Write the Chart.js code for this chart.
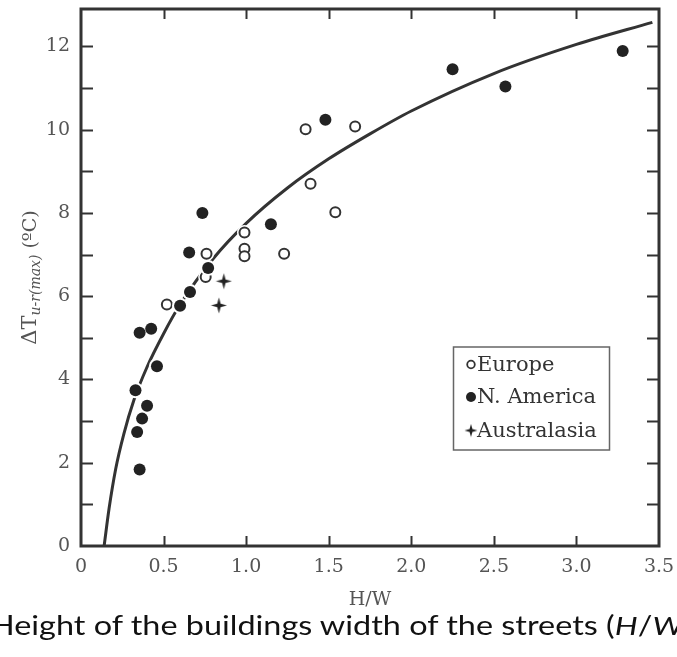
<!DOCTYPE html>
<html>
<head>
<meta charset="utf-8">
<script src="https://cdn.jsdelivr.net/npm/chart.js@4.4.1/dist/chart.umd.min.js"></script>
<style>
  html, body { margin: 0; padding: 0; background: #fff; overflow: hidden; width: 677px; height: 657px; }
  #wrap { position: relative; width: 677px; height: 657px; overflow: hidden; }
  #c { position: absolute; left: 0; top: 0; }
  #caption {
    position: absolute; left: -10px; top: 610px; white-space: nowrap;
    font-family: Lato, "Open Sans", sans-serif; font-size: 26px; color: #111;
    transform-origin: 0 0; line-height: 1.2;
  }
</style>
</head>
<body>
<div id="wrap">
  <canvas id="c" width="677" height="657"></canvas>
  <div id="caption">Height of the buildings width of the streets (<i>H</i>/<i>W</i>)</div>
</div>
<script>
// Urban heat island intensity vs. canyon geometry (H/W)
const europeHW = [0.52, 0.76, 0.755, 0.99, 0.99, 0.99, 1.23, 1.36, 1.39, 1.54, 1.66];
const europeDT = [5.80, 7.02, 6.46, 7.53, 7.14, 6.96, 7.02, 10.01, 8.70, 8.02, 10.08];

const namericaHW = [0.33, 0.34, 0.355, 0.37, 0.40, 0.355, 0.425, 0.46, 0.60, 0.66, 0.655, 0.735, 0.77, 1.15, 1.48, 2.25, 2.57, 3.28];
const namericaDT = [3.74, 2.74, 1.84, 3.06, 3.37, 5.12, 5.22, 4.32, 5.77, 6.10, 7.05, 8.00, 6.68, 7.73, 10.24, 11.45, 11.04, 11.89];

const australasiaHW = [0.835, 0.865];
const australasiaDT = [5.78, 6.36];

// fitted curve, sampled along its length
const curveHW = [0.14, 0.17, 0.21, 0.26, 0.32, 0.40, 0.50, 0.60, 0.80, 1.00, 1.25, 1.50, 1.75, 2.00, 2.50, 3.00, 3.46];
const curveDT = [0.0, 0.9, 1.85, 2.7, 3.5, 4.3, 5.1, 5.8, 6.9, 7.75, 8.6, 9.3, 9.9, 10.45, 11.35, 12.05, 12.58];

const xTickLabels = ['0', '0.5', '1.0', '1.5', '2.0', '2.5', '3.0', '3.5'];
const yTickLabels = ['0', '2', '4', '6', '8', '10', '12'];

const pts = (xs, ys) => xs.map((v, i) => ({ x: v, y: ys[i] }));

// four-pointed star marker
function makeStar(size) {
  const c = document.createElement('canvas');
  c.width = size; c.height = size;
  const g = c.getContext('2d');
  const m = size / 2, r = size / 2 - 0.5, k = size * 0.1;
  g.fillStyle = '#222';
  g.beginPath();
  g.moveTo(m, m - r);
  g.lineTo(m + k, m - k);
  g.lineTo(m + r, m);
  g.lineTo(m + k, m + k);
  g.lineTo(m, m + r);
  g.lineTo(m - k, m + k);
  g.lineTo(m - r, m);
  g.lineTo(m - k, m - k);
  g.closePath();
  g.fill();
  return c;
}
const star = makeStar(17);
const starSmall = makeStar(14);

const SERIF = '"DejaVu Serif", "Liberation Serif", serif';

// white halo under each marker so the curve breaks around it
const halo = {
  id: 'halo',
  beforeDatasetDraw(chart, args) {
    const ds = chart.data.datasets[args.index];
    if (!ds.halo) return;
    const ctx = chart.ctx;
    ctx.save();
    ctx.fillStyle = '#fff';
    args.meta.data.forEach(el => {
      ctx.beginPath();
      ctx.arc(el.x, el.y, ds.halo, 0, Math.PI * 2);
      ctx.fill();
    });
    ctx.restore();
  }
};

// boxed frame with inward ticks on all four sides
const frame = {
  id: 'frame',
  beforeDatasetsDraw(chart) {
    const { ctx, chartArea: a, scales: { x, y } } = chart;
    ctx.save();
    ctx.strokeStyle = '#333';
    ctx.lineWidth = 2;
    const seg = (x1, y1, x2, y2) => { ctx.beginPath(); ctx.moveTo(x1, y1); ctx.lineTo(x2, y2); ctx.stroke(); };
    x.ticks.forEach(t => {
      if (t.value <= x.min || t.value >= x.max) return;
      const px = Math.round(x.getPixelForValue(t.value)) + 0.5;
      seg(px, a.bottom, px, a.bottom - 10);
      seg(px, a.top, px, a.top + 10);
    });
    y.ticks.forEach(t => {
      if (!Number.isInteger(t.value) || t.value <= y.min || t.value >= y.max) return;
      const py = Math.round(y.getPixelForValue(t.value)) + 0.5;
      seg(a.left, py, a.left + 12, py);
      seg(a.right, py, a.right - 12, py);
    });
    ctx.lineWidth = 3;
    ctx.strokeRect(a.left, a.top, a.right - a.left, a.bottom - a.top);
    ctx.restore();
  }
};

// axis titles and the boxed key
const annotations = {
  id: 'annotations',
  afterDraw(chart) {
    const { ctx, chartArea: a } = chart;
    ctx.save();
    // x title
    ctx.fillStyle = '#555';
    ctx.font = '19px ' + SERIF;
    ctx.textAlign = 'center';
    ctx.textBaseline = 'middle';
    ctx.fillText('H/W', (a.left + a.right) / 2, 600);

    // y title, rotated, with subscript
    ctx.save();
    ctx.translate(28, (a.top + a.bottom) / 2);
    ctx.rotate(-Math.PI / 2);
    ctx.textBaseline = 'alphabetic';
    ctx.textAlign = 'left';
    const p1 = '\u0394T', p2 = 'u-r(max)', p3 = ' (\u00BAC)';
    const f1 = '21px ' + SERIF, f2 = 'italic 14px ' + SERIF, f3 = '19px ' + SERIF;
    ctx.font = f1; const w1 = ctx.measureText(p1).width;
    ctx.font = f2; const w2 = ctx.measureText(p2).width;
    ctx.font = f3; const w3 = ctx.measureText(p3).width;
    let xx = -(w1 + w2 + w3) / 2;
    const base = 8;
    ctx.font = f1; ctx.fillText(p1, xx, base); xx += w1;
    ctx.font = f2; ctx.fillText(p2, xx, base + 4); xx += w2;
    ctx.font = f3; ctx.fillText(p3, xx, base);
    ctx.restore();

    // key
    const bx = 453.5, by = 347, bw = 156, bh = 103;
    ctx.strokeStyle = '#666';
    ctx.lineWidth = 1.5;
    ctx.strokeRect(bx, by, bw, bh);
    ctx.font = '21px ' + SERIF;
    ctx.fillStyle = '#333';
    ctx.textAlign = 'left';
    ctx.textBaseline = 'middle';
    const rows = [364.5, 397, 430.5];
    chart.data.datasets.filter(d => d.key).forEach((d, i) => {
      const cy = rows[i], mx = 471;
      if (d.key === 'open') {
        ctx.beginPath(); ctx.arc(mx, cy, 3.8, 0, Math.PI * 2);
        ctx.fillStyle = '#fff'; ctx.fill();
        ctx.lineWidth = 1.8; ctx.strokeStyle = '#333'; ctx.stroke();
      } else if (d.key === 'filled') {
        ctx.beginPath(); ctx.arc(mx, cy, 5, 0, Math.PI * 2);
        ctx.fillStyle = '#222'; ctx.fill();
      } else {
        ctx.drawImage(starSmall, mx - 7, cy - 7);
      }
      ctx.fillStyle = '#333';
      ctx.fillText(d.label, 477, cy + 1);
    });
    ctx.restore();
  }
};

new Chart(document.getElementById('c'), {
  type: 'scatter',
  data: {
    datasets: [
      {
        label: 'fit',
        data: pts(curveHW, curveDT),
        showLine: true,
        pointRadius: 0,
        borderColor: '#333',
        borderWidth: 3,
        cubicInterpolationMode: 'monotone',
        order: 10
      },
      {
        label: 'Europe', key: 'open', halo: 7.5,
        data: pts(europeHW, europeDT),
        pointRadius: 5,
        pointBackgroundColor: '#fff',
        pointBorderColor: '#333',
        pointBorderWidth: 2,
        order: 2
      },
      {
        label: 'N. America', key: 'filled', halo: 8,
        data: pts(namericaHW, namericaDT),
        pointRadius: 6,
        pointBackgroundColor: '#222',
        pointBorderColor: '#222',
        pointBorderWidth: 0,
        order: 1
      },
      {
        label: 'Australasia', key: 'star', halo: 6,
        data: pts(australasiaHW, australasiaDT),
        pointStyle: star,
        pointRadius: 8,
        order: 3
      }
    ]
  },
  options: {
    responsive: false,
    animation: false,
    events: [],
    layout: { padding: { top: 8, right: 18, left: 0, bottom: 0 } },
    plugins: { legend: { display: false }, tooltip: { enabled: false } },
    scales: {
      x: {
        type: 'linear', min: 0, max: 3.5,
        grid: { display: false, drawTicks: false },
        border: { display: false },
        ticks: {
          stepSize: 0.5, padding: 10, color: '#555',
          font: { family: SERIF, size: 19 },
          callback: (v) => xTickLabels[Math.round(v * 2)] ?? ''
        },
        afterFit: (s) => { s.height = 111; s.paddingLeft = 0; s.paddingRight = 0; }
      },
      y: {
        type: 'linear', min: 0, max: 12.9,
        grid: { display: false, drawTicks: false },
        border: { display: false },
        ticks: {
          stepSize: 1, padding: 11, color: '#555',
          font: { family: SERIF, size: 19 },
          callback: (v) => (Number.isInteger(v) && v % 2 === 0) ? (yTickLabels[v / 2] ?? '') : ''
        },
        afterFit: (s) => { s.width = 81; s.paddingTop = 0; s.paddingBottom = 0; }
      }
    }
  },
  plugins: [halo, frame, annotations]
});

// stretch the caption line to its set width
const cap = document.getElementById('caption');
const w = cap.getBoundingClientRect().width;
cap.style.transform = 'scaleX(' + (702 / w) + ')';
</script>
</body>
</html>
